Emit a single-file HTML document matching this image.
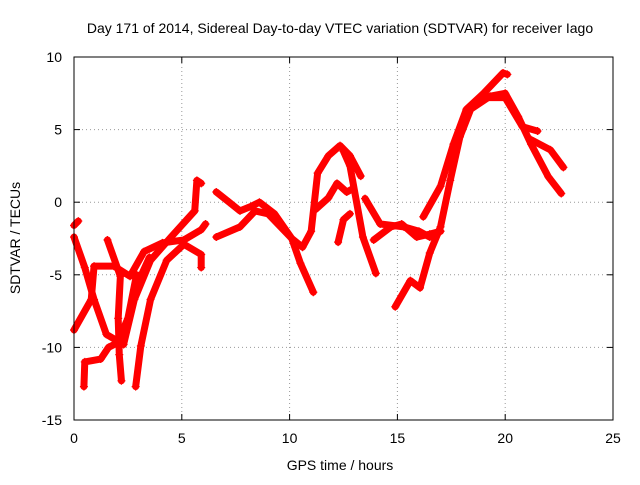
<!DOCTYPE html>
<html><head><meta charset="utf-8"><style>
body{margin:0;background:#fff;}
svg text{font-family:"Liberation Sans",sans-serif;font-size:14px;fill:#000;}
</style></head><body>
<svg width="640" height="480" xmlns="http://www.w3.org/2000/svg">
<rect width="640" height="480" fill="#fff"/>
<text x="340" y="33" text-anchor="middle">Day 171 of 2014, Sidereal Day-to-day VTEC variation (SDTVAR) for receiver Iago</text>
<g id="grid"></g>
<g id="series"></g>
<rect x="74" y="57" width="539" height="363" fill="none" stroke="#000"/>
<g id="axes"></g>
<text x="340" y="470" text-anchor="middle">GPS time / hours</text>
<text transform="translate(20,238) rotate(-90)" text-anchor="middle">SDTVAR / TECUs</text>
</svg>
<script>
const xTicks=[0,5,10,15,20,25];
const yTicks=[10,5,0,-5,-10,-15];
const track1=[[0,-1.6],[0.2,-1.3]];
const track2=[[0,-2.4],[0.5,-4.5],[0.93,-6.7],[1.5,-9.1],[2.3,-9.8],[2.8,-6.7],[3.55,-4],[4.5,-2.4],[5.6,-0.6],[5.7,1.5],[5.9,1.3]];
const track3=[[0,-8.8],[0.8,-6.7],[0.93,-4.4],[1.85,-4.4],[2.6,-5.1],[3.25,-3.4],[4.1,-2.8],[5.1,-2.6],[5.9,-1.9],[6.1,-1.5]];
const track4=[[1.55,-2.6],[2.15,-5.1],[2.05,-8],[2.1,-10.5],[2.2,-12.3]];
const track5=[[2.86,-12.7],[3.1,-9.9],[3.55,-6.7],[4.3,-4],[5.1,-2.9],[5.9,-3.6],[5.9,-4.5]];
const track6=[[0.46,-12.7],[0.5,-11],[1.24,-10.8],[1.6,-10],[2.0,-9.7],[2.5,-8],[2.9,-5],[3.1,-5.1],[3.5,-3.8]];
const track7=[[6.6,0.7],[7.2,0],[7.7,-0.6],[8.2,-0.3],[8.6,0],[9.3,-0.8],[10.1,-2.5],[10.6,-3.1],[11.0,-2],[11.3,2.0],[11.8,3.2],[12.34,3.9],[12.8,3.2],[13.3,1.8]];
const track8=[[6.6,-2.4],[7.7,-1.7],[8.4,-0.6],[9.0,-0.8],[10.1,-2.5],[10.5,-4.2],[11.1,-6.2]];
const track9=[[12.5,3.5],[12.8,2.5],[13.4,-2.4],[14.0,-4.9]];
const track10=[[11.2,-0.5],[11.8,0.3],[12.2,1.3],[12.65,0.7],[12.9,0.9]];
const track11=[[12.25,-2.75],[12.5,-1.2],[12.8,-0.8]];
const track12=[[13.5,0.25],[14.2,-1.5],[15.3,-1.7],[16.0,-2.0],[16.5,-2.4],[17.0,-2.0]];
const track13=[[13.9,-2.6],[14.7,-1.7],[15.2,-1.5],[15.9,-2.4],[16.5,-2.2],[17.0,-2.0]];
const track14=[[14.9,-7.2],[15.6,-5.4],[16.05,-5.9],[16.5,-3.5],[17.0,-1.7],[17.45,1.5],[17.9,4.5],[18.4,6.4],[19.3,7.3],[20.0,7.5],[20.6,5.9],[21.2,4.0],[22.0,1.75],[22.6,0.6]];
const track15=[[16.2,-1.0],[17.0,1.1],[17.6,4.0],[18.2,6.4],[19.0,7.5],[19.9,8.9],[20.1,8.8]];
const track16=[[19.0,7.2],[20.0,7.2],[20.8,5.2],[21.5,4.9]];
const track17=[[21.2,4.3],[22.1,3.6],[22.7,2.4]];
const tracks=[track1,track2,track3,track4,track5,track6,track7,track8,track9,track10,track11,track12,track13,track14,track15,track16,track17];
const NS="http://www.w3.org/2000/svg";
const X0=74,X1=613,Y0=420,Y1=57;
const sx=v=>X0+(v-0)/25*(X1-X0);
const sy=v=>Y0-(v+15)/25*(Y0-Y1);
const grid=document.getElementById('grid'),axes=document.getElementById('axes'),ser=document.getElementById('series');
function mk(t,a,p){const e=document.createElementNS(NS,t);for(const k in a)e.setAttribute(k,a[k]);p.appendChild(e);return e;}
xTicks.forEach(v=>{
 const g=mk('line',{x1:sx(v),x2:sx(v),y1:Y0,y2:Y1,stroke:'#999','stroke-dasharray':'1,3'},grid);
 
 
 mk('line',{x1:sx(v),x2:sx(v),y1:Y0,y2:Y0-6,stroke:'#000'},axes);
 mk('line',{x1:sx(v),x2:sx(v),y1:Y1,y2:Y1+6,stroke:'#000'},axes);
 const t=mk('text',{x:sx(v),y:Y0+23,'text-anchor':'middle'},axes);t.textContent=v;
 
 
});
yTicks.forEach(v=>{
 const g=mk('line',{x1:X0,x2:X1,y1:sy(v),y2:sy(v),stroke:'#999','stroke-dasharray':'1,3'},grid);
 
 
 mk('line',{x1:X0,x2:X0+6,y1:sy(v),y2:sy(v),stroke:'#000'},axes);
 mk('line',{x1:X1,x2:X1-6,y1:sy(v),y2:sy(v),stroke:'#000'},axes);
 const t=mk('text',{x:X0-12,y:sy(v)+5,'text-anchor':'end'},axes);t.textContent=v;
 
 
});
tracks.forEach(tr=>{
 const p=mk('polyline',{points:tr.map(d=>sx(d[0])+','+sy(d[1])).join(' '),fill:'none',stroke:'#f00','stroke-width':7,'stroke-linejoin':'round','stroke-linecap':'round'},ser);
 
 
 tr.forEach(d=>{
  const m=mk('path',{d:`M${sx(d[0])-4},${sy(d[1])}h8M${sx(d[0])},${sy(d[1])-4}v8`,stroke:'#f00','stroke-width':1.2},ser);
  
  
 });
});
</script>
</body></html>
